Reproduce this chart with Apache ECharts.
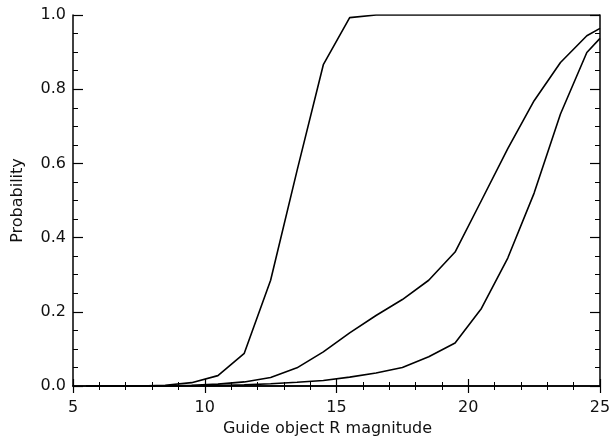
<!DOCTYPE html>
<html>
<head>
<meta charset="utf-8">
<script src="https://cdn.jsdelivr.net/npm/echarts@6/dist/echarts.min.js"></script>
<style>html,body{margin:0;padding:0;background:#fff;}#c{width:611px;height:437px;}</style>
</head>
<body>
<div id="c"></div>
<script>
var mags = [5.5, 6.5, 7.5, 8.5, 9.5, 10.5, 11.5, 12.5, 13.5, 14.5, 15.5, 16.5, 17.5, 18.5, 19.5, 20.5, 21.5, 22.5, 23.5, 24.5, 25];
var probA = [0, 0, 0, 0.002, 0.009, 0.028, 0.088, 0.285, 0.58, 0.866, 0.993, 1.0, 1.0, 1.0, 1.0, 1.0, 1.0, 1.0, 1.0, 1.0, 1.0];
var probB = [0, 0, 0, 0, 0.002, 0.005, 0.011, 0.023, 0.049, 0.092, 0.143, 0.19, 0.233, 0.285, 0.361, 0.50, 0.64, 0.769, 0.872, 0.944, 0.964];
var probC = [0, 0, 0, 0, 0, 0.001, 0.003, 0.006, 0.01, 0.015, 0.024, 0.035, 0.05, 0.079, 0.116, 0.209, 0.345, 0.52, 0.733, 0.899, 0.937];
var xTicks = [5, 10, 15, 20, 25];
var yTicks = [0.0, 0.2, 0.4, 0.6, 0.8, 1.0];
var xTitle = 'Guide object R magnitude';
var yTitle = 'Probability';

function pairs(xs, ys) { return xs.map(function (x, i) { return [x, ys[i]]; }); }

var font = 'DejaVu Sans';
var txt = '#111';
var axisLine = { lineStyle: { color: '#000', width: 1.5 } };
function xAx(pos, show) {
  return {
    type: 'value', position: pos, min: xTicks[0], max: xTicks[xTicks.length - 1], interval: 5,
    axisLine: axisLine,
    axisTick: { show: true, inside: true, length: 7, lineStyle: { color: '#000', width: 1.2 } },
    minorTick: { show: true, splitNumber: 5, length: 4, lineStyle: { color: '#000', width: 1 } },
    splitLine: { show: false },
    axisLabel: { show: show, color: txt, fontFamily: font, fontSize: 16, margin: 14,
      formatter: function (v) { return String(v); } },
    name: show ? xTitle : '', nameLocation: 'middle', nameGap: 34,
    nameTextStyle: { color: txt, fontFamily: font, fontSize: 16, padding: [0, 18, 0, 0] }
  };
}
function yAx(pos, show) {
  return {
    type: 'value', position: pos, min: yTicks[0], max: yTicks[yTicks.length - 1], interval: 0.2,
    axisLine: axisLine,
    axisTick: { show: true, inside: true, length: 10, lineStyle: { color: '#000', width: 1.2 } },
    minorTick: { show: true, splitNumber: 4, length: 5, lineStyle: { color: '#000', width: 1 } },
    splitLine: { show: false },
    axisLabel: { show: show, color: txt, fontFamily: font, fontSize: 16, margin: 7,
      formatter: function (v) { return v.toFixed(1); } },
    name: show ? yTitle : '', nameLocation: 'middle', nameGap: 47,
    nameTextStyle: { color: txt, fontFamily: font, fontSize: 16 }
  };
}
function line(d) {
  return { type: 'line', data: pairs(mags, d), xAxisIndex: 0, yAxisIndex: 0, symbol: 'none',
    lineStyle: { color: '#000', width: 1.6 }, animation: false };
}
var chart = echarts.init(document.getElementById('c'), null, { renderer: 'canvas' });
chart.setOption({
  backgroundColor: '#fff',
  animation: false,
  grid: { left: 73, right: 11, top: 15, bottom: 51, containLabel: false, outerBoundsMode: 'none' },
  xAxis: [xAx('bottom', true), xAx('top', false)],
  yAxis: [yAx('left', true), yAx('right', false)],
  series: [line(probA), line(probB), line(probC)]
});
</script>
</body>
</html>
